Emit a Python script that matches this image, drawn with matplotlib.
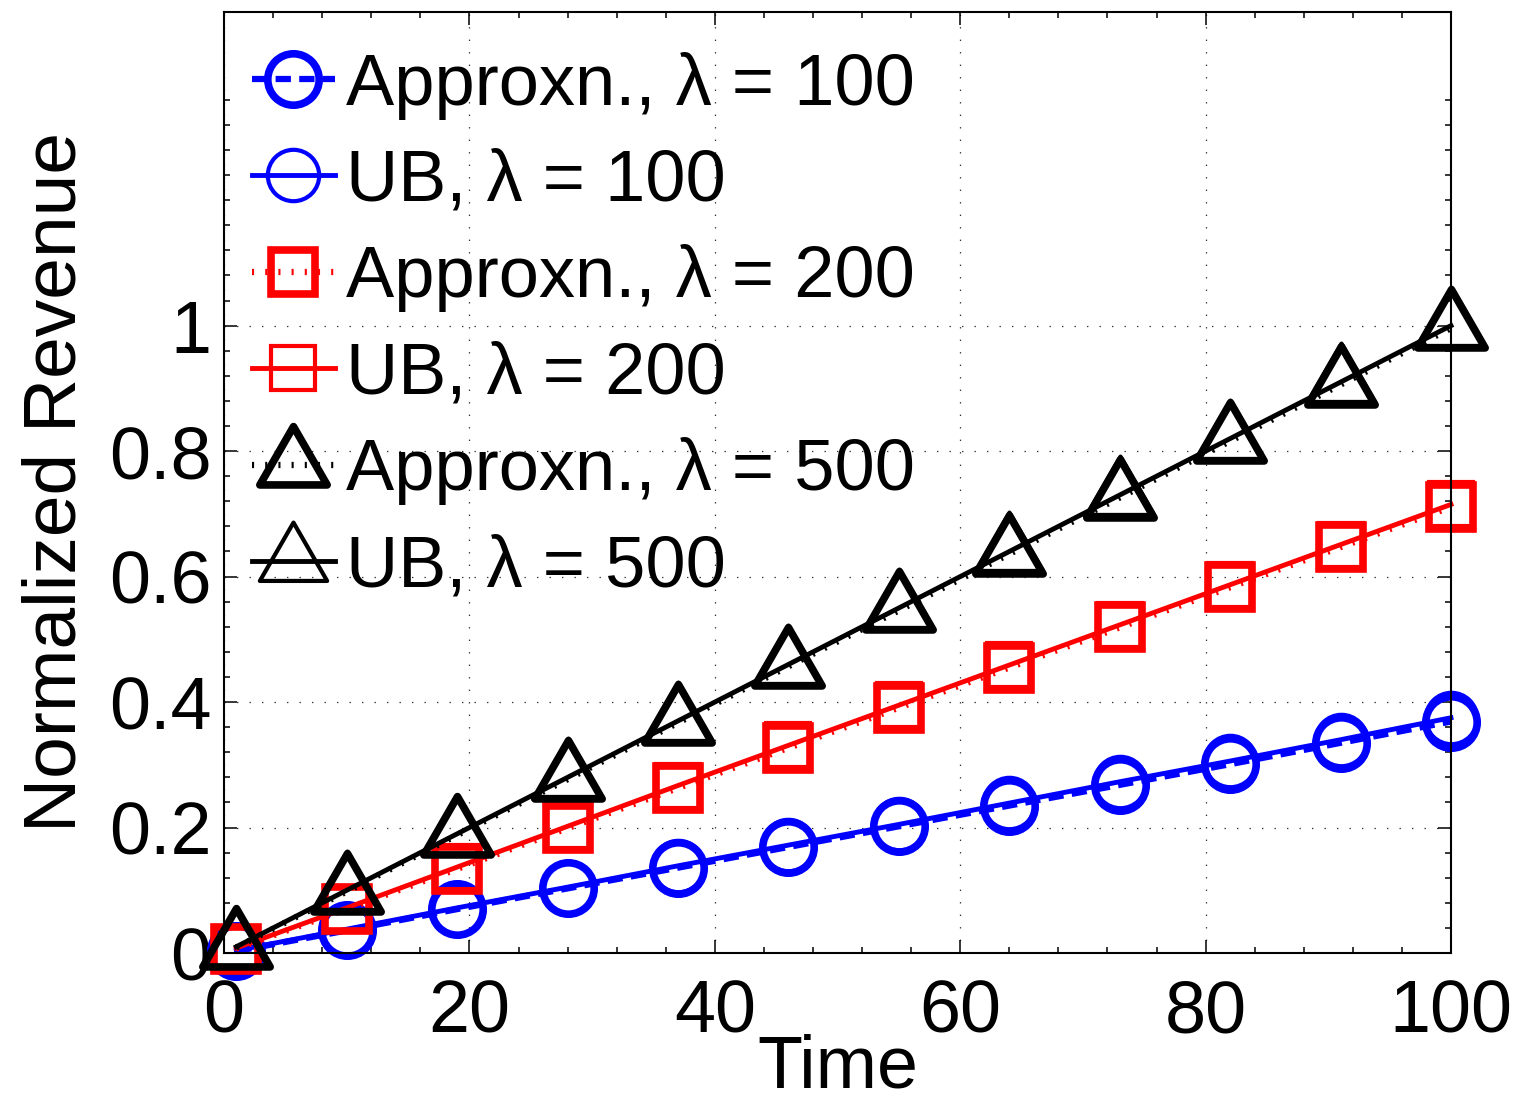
import matplotlib
matplotlib.use('Agg')
import matplotlib.pyplot as plt
import numpy as np
from matplotlib.ticker import FixedLocator
from matplotlib.markers import MarkerStyle
from matplotlib.path import Path

plt.rcParams['font.family'] = ['Liberation Sans', 'DejaVu Sans']
plt.rcParams['lines.scale_dashes'] = False

# datos
time = [1, 10, 19, 28, 37, 46, 55, 64, 73, 82, 91, 100]
ub_100 = [0.004, 0.038, 0.072, 0.105, 0.139, 0.172, 0.205, 0.239, 0.273, 0.306, 0.340, 0.375]
approx_100 = [0.003, 0.036, 0.070, 0.103, 0.136, 0.169, 0.202, 0.235, 0.268, 0.301, 0.335, 0.369]
ub_200 = [0.008, 0.072, 0.137, 0.202, 0.267, 0.331, 0.395, 0.459, 0.523, 0.587, 0.651, 0.715]
approx_200 = [0.007, 0.070, 0.134, 0.199, 0.263, 0.327, 0.391, 0.455, 0.519, 0.583, 0.647, 0.711]
ub_500 = [0.010, 0.100, 0.190, 0.280, 0.370, 0.460, 0.550, 0.640, 0.730, 0.820, 0.910, 1.000]
approx_500 = [0.009, 0.098, 0.188, 0.277, 0.367, 0.457, 0.546, 0.636, 0.726, 0.816, 0.906, 0.996]

lambdas = [100, 200, 500]
colors = ['#0000ff', '#ff0000', '#000000']

# triangulo estilo MATLAB (centroide en el punto)
tri_path = Path([(0, 2/3), (-0.577, -1/3), (0.577, -1/3), (0, 2/3)], closed=True)
tri = MarkerStyle(tri_path, joinstyle='miter')

series = [
    (approx_100, ub_100, 'o', 37, colors[0], (0, (11, 6))),
    (approx_200, ub_200, 's', 31, colors[1], (0, (1.5, 8))),
    (approx_500, ub_500, tri, 56, colors[2], (0, (1.5, 8))),
]

fig = plt.figure(figsize=(15.2, 11.07), dpi=100)
ax = fig.add_axes([0.1474, 0.1391, 0.8072, 0.8501])

for (approx, ub, mk, ms, c, ls), lam in zip(series, lambdas):
    ax.plot(time, approx, color=c, linestyle=ls, linewidth=4.5, marker=mk,
            markersize=ms, markeredgewidth=5.5, markerfacecolor='none',
            clip_on=False, label=f'Approxn., λ = {lam}')
    ax.plot(time, ub, color=c, linestyle='-', linewidth=3.5, marker=mk,
            markersize=ms, markeredgewidth=3, markerfacecolor='none',
            clip_on=False, label=f'UB, λ = {lam}')

ax.set_xlim(0, 100)
ax.set_ylim(0, 1.5)
ax.set_xticks([0, 20, 40, 60, 80, 100])
ax.set_yticks([0, 0.2, 0.4, 0.6, 0.8, 1.0])
ax.set_yticklabels(['0', '0.2', '0.4', '0.6', '0.8', '1'])
ax.xaxis.set_minor_locator(FixedLocator(np.arange(0, 101, 4)))
ax.yaxis.set_minor_locator(FixedLocator(np.arange(0, 1.37, 0.04)))

ax.tick_params(which='both', direction='in', top=True, right=True, labelsize=53, width=1.1)
ax.tick_params(which='major', length=9.5)
ax.tick_params(which='minor', length=4.3)
ax.tick_params(axis='y', which='major', pad=9)
ax.tick_params(axis='x', which='major', pad=18)
for s in ax.spines.values():
    s.set_linewidth(1.5)

ax.grid(True, which='major', linestyle=(0, (1, 8)), linewidth=0.9, color='#333333')
ax.set_axisbelow(True)

ax.set_xlabel('Time', fontsize=53, labelpad=-10)
ax.set_ylabel('Normalized Revenue', fontsize=54, labelpad=13)

ax.legend(loc='upper left', bbox_to_anchor=(-0.0098, 1.0), frameon=False, fontsize=52,
          handlelength=1.15, handletextpad=0.15, labelspacing=0.40,
          borderaxespad=0.1, borderpad=0.45)

fig.savefig('out.png', dpi=100)
